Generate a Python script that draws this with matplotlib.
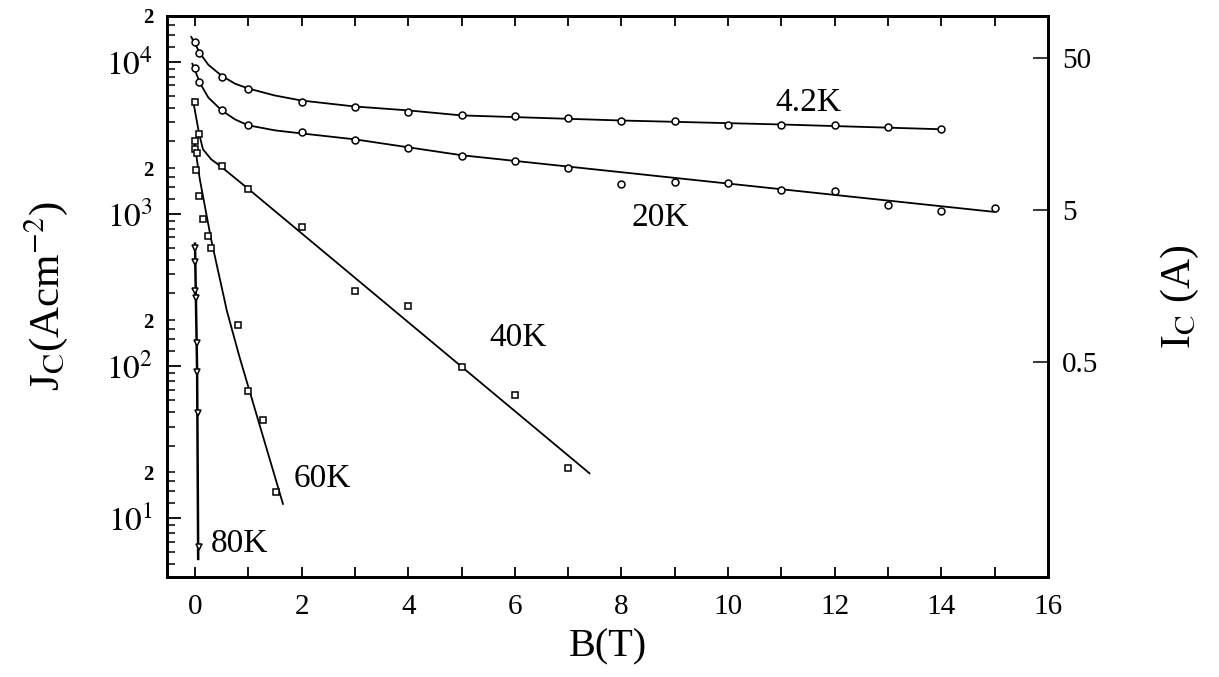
import math
import matplotlib
matplotlib.use("Agg")
import matplotlib.pyplot as plt
from matplotlib.ticker import FixedLocator, FuncFormatter, NullLocator, FixedFormatter

plt.rcParams["font.family"] = ["Liberation Serif", "DejaVu Serif"]
plt.rcParams["mathtext.fontset"] = "stix"

# ---- measured Jc(B) points ----
b_42 = [0.0, 0.08, 0.5, 1, 2, 3, 4, 5, 6, 7, 8, 9, 10, 11, 12, 13, 14]
jc_42 = [13500, 11450, 7980, 6670, 5480, 5080, 4710, 4440, 4370, 4240, 4110,
         4110, 3820, 3820, 3820, 3700, 3600]

b_20 = [0.0, 0.08, 0.5, 1, 2, 3, 4, 5, 6, 7, 8, 9, 10, 11, 12, 13, 14, 15]
jc_20 = [9140, 7400, 4790, 3820, 3440, 3050, 2700, 2400, 2220, 2000, 1570,
         1620, 1600, 1440, 1410, 1150, 1050, 1095]

b_40 = [0.0, 0.08, 0.5, 1, 2, 3, 4, 5, 6, 7]
jc_40 = [5400, 3330, 2060, 1460, 822, 309, 247, 98.5, 64.6, 21.2]

b_60 = [0.0, 0.0, 0.03, 0.02, 0.08, 0.15, 0.25, 0.3, 0.8, 1.0, 1.27, 1.52]
jc_60 = [3000, 2660, 2500, 1940, 1310, 927, 718, 600, 185, 68.7, 44.4, 14.8]

b_80 = [0.0, 0.0, 0.0, 0.01, 0.04, 0.04, 0.06, 0.07]
jc_80 = [600, 486, 309, 282, 141, 91.4, 49.3, 6.46]

# ---- fitted curves ----
fit_b_42 = [-0.07, 0.1, 0.25, 0.5, 0.75, 1, 1.5, 2, 3, 4, 5, 8, 11, 14]
fit_j_42 = [14560, 11280, 9560, 8090, 7180, 6670, 6000, 5560, 5080, 4790,
            4440, 4110, 3870, 3600]

fit_b_20 = [-0.05, 0.1, 0.25, 0.5, 0.75, 1, 1.5, 2, 3, 4, 5, 15]
fit_j_20 = [9700, 7180, 5820, 4790, 4180, 3820, 3540, 3380, 3090, 2740,
            2430, 1030]

fit_b_40 = [-0.04, 0.08, 0.15, 0.3, 0.5, 1, 7.4]
fit_j_40 = [5650, 3330, 2660, 2290, 2030, 1460, 19.7]

fit_b_60 = [-0.02, 0.09, 0.3, 0.6, 0.84, 1.65]
fit_j_60 = [3090, 1690, 687, 229, 113, 12.4]

fit_b_80 = [0.0, 0.04, 0.06]
fit_j_80 = [637, 91.4, 5.39]

# Ic = Jc * conductor cross-section (cm^2)
area = 4.73e-3
ic_ticks = [0.5, 5, 50]
ic_labels = ["0.5", "5", "50"]

x_ticks = list(range(0, 17))
x_labels = [str(v) if v % 2 == 0 else "" for v in x_ticks]

fig = plt.figure(figsize=(12.19, 6.77), dpi=100)
ax = fig.add_axes([0.137, 0.1477, 0.8597 - 0.137, 0.9764 - 0.1477])

line_kw = dict(color="black", lw=1.3, zorder=2)
ax.plot(fit_b_42, fit_j_42, **line_kw)
ax.plot(fit_b_20, fit_j_20, **line_kw)
ax.plot(fit_b_40, fit_j_40, **line_kw)
ax.plot(fit_b_60, fit_j_60, **line_kw)
ax.plot(fit_b_80, fit_j_80, color="black", lw=1.8, zorder=2)

circ = dict(ls="none", marker="o", ms=5, mfc="white", mec="black", mew=1.1, zorder=3)
sq = dict(ls="none", marker="s", ms=5, mfc="white", mec="black", mew=1.1, zorder=3)
tri = dict(ls="none", marker="v", ms=5, mfc="white", mec="black", mew=1.1, zorder=3)
ax.plot(b_42, jc_42, **circ)
ax.plot(b_20, jc_20, **circ)
ax.plot(b_40, jc_40, **sq)
ax.plot(b_60, jc_60, **sq)
ax.plot(b_80, jc_80, **tri)

ax.set_yscale("log")
ax.set_xlim(-0.525, 16.0)
ax.set_ylim(4.1, 2.0e4)

# curve labels
lab_kw = dict(fontsize=24, ha="center", va="center")
ax.text(11.5, 5370, "4.2K", **lab_kw)
ax.text(8.72, 942, "20K", **lab_kw)
ax.text(6.06, 153, "40K", **lab_kw)
ax.text(2.38, 18.1, "60K", **lab_kw)
ax.text(0.84, 6.75, "80K", **lab_kw)

# x axis
ax.xaxis.set_major_locator(FixedLocator(x_ticks))
ax.xaxis.set_major_formatter(FixedFormatter(x_labels))
ax.xaxis.set_minor_locator(NullLocator())
ax.tick_params(axis="x", which="major", direction="in", length=7, width=1.3,
               top=True, labelsize=21, pad=12)


def decade_label(v, pos):
    return r"$10^{%d}$" % round(math.log10(v))


def two_label(v, pos):
    mant = v / 10 ** math.floor(math.log10(v) + 1e-9)
    return "2" if abs(mant - 2) < 1e-6 else ""


# left y axis
ax.yaxis.set_major_locator(FixedLocator([10, 100, 1000, 10000]))
ax.yaxis.set_major_formatter(FuncFormatter(decade_label))
minor_vals = []
for dec in [1, 10, 100, 1000, 10000]:
    for m in [1.25, 1.5, 1.75, 2, 3, 4, 5, 6, 7, 8, 9]:
        minor_vals.append(m * dec)
ax.yaxis.set_minor_locator(FixedLocator(minor_vals))
ax.yaxis.set_minor_formatter(FuncFormatter(two_label))
ax.tick_params(axis="y", which="major", direction="in", length=10, width=1.3,
               labelsize=24, pad=10)
ax.tick_params(axis="y", which="minor", direction="in", length=6, width=1.1,
               labelsize=15, pad=10)
for t in ax.yaxis.get_minor_ticks():
    t.label1.set_fontweight("bold")

for s in ax.spines.values():
    s.set_linewidth(2.0)

# right axis: critical current
ax2 = ax.twinx()
ax2.set_yscale("log")
ax2.set_ylim(4.1 * area, 2.0e4 * area)
ax2.yaxis.set_major_locator(FixedLocator(ic_ticks))
ax2.yaxis.set_major_formatter(FixedFormatter(ic_labels))
ax2.yaxis.set_minor_locator(NullLocator())
ax2.tick_params(axis="y", which="major", direction="in", length=11, width=1.1,
                labelsize=21, pad=10)
for s in ax2.spines.values():
    s.set_linewidth(2.0)

ax.set_xlabel("B(T)", fontsize=29, labelpad=6)
ax.set_ylabel(r"J$_\mathrm{C}$(Acm$^{\mathrm{-2}}$)", fontsize=31, labelpad=26)
ax2.set_ylabel(r"I$_\mathrm{C}$ (A)", fontsize=30, labelpad=44)

fig.savefig("out.png", dpi=100)
